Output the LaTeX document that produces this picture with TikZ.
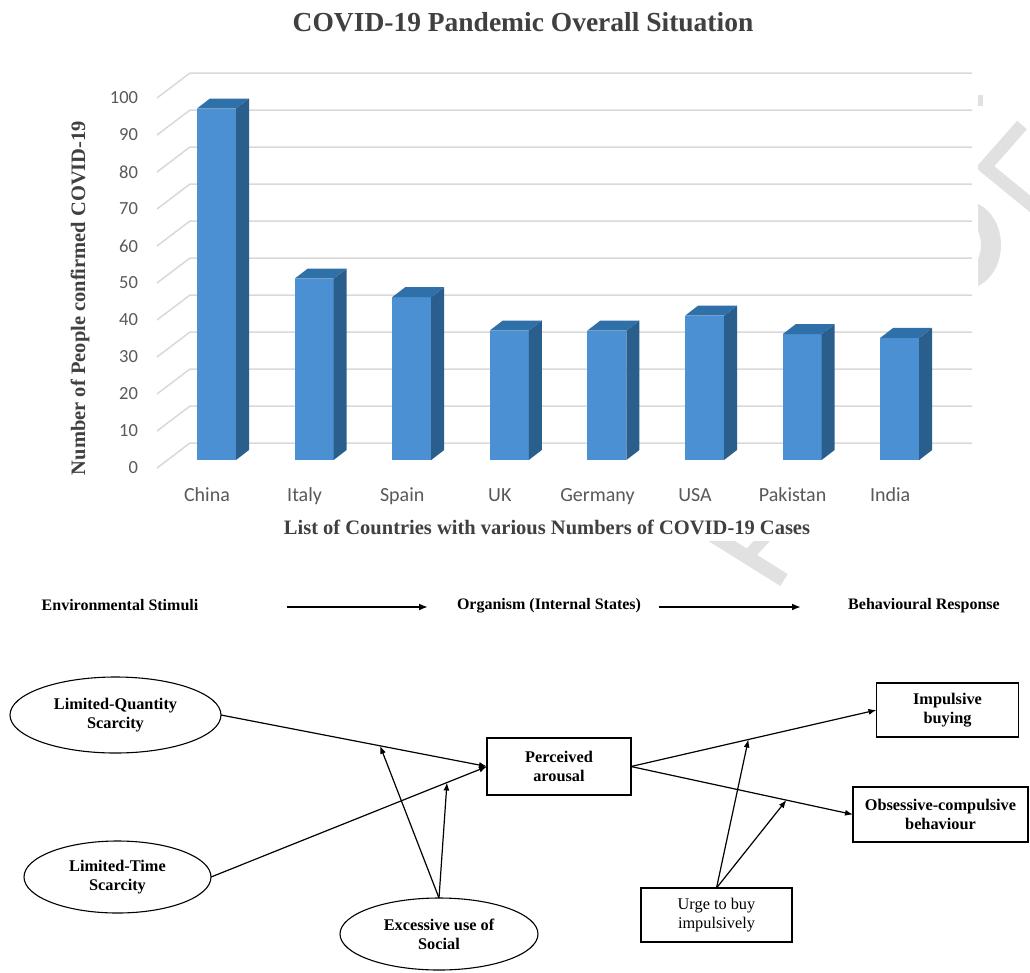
\documentclass[tikz,border=0pt]{standalone}
\usepackage{fontspec}
\setmainfont{Liberation Serif}
\newfontfamily\chartfont{Carlito}
\usetikzlibrary{arrows.meta,calc,shapes.geometric}
\definecolor{barfront}{HTML}{4A90D2}
\definecolor{barside}{HTML}{2A5E8C}
\definecolor{bartop}{HTML}{3070A8}
\definecolor{gridgray}{HTML}{D9D9D9}
\definecolor{ticktext}{HTML}{595959}
\definecolor{titletext}{HTML}{404040}
\definecolor{wmark}{HTML}{E1E1E1}

\begin{document}
\begin{tikzpicture}[x=1pt,y=-1pt,
  every node/.style={inner sep=0pt, outer sep=0pt},
  ticklabel/.style={anchor=east, font=\chartfont\fontsize{18.5}{18.5}\selectfont, text=ticktext},
  country/.style={anchor=base, font=\chartfont\fontsize{20}{20}\selectfont, text=ticktext},
  charttitle/.style={font=\bfseries\fontsize{27.5}{27.5}\selectfont, text=titletext},
  axistitle/.style={font=\bfseries\fontsize{20.5}{20.5}\selectfont, text=titletext},
  gridline/.style={draw=gridgray, line width=1.5pt},
  head/.style={font=\bfseries\fontsize{16}{16}\selectfont},
  headarrow/.style={line width=2pt, -{Latex[length=9pt,width=7pt]}},
  oval/.style={ellipse, draw, line width=1.1pt, align=center,
    font=\bfseries\fontsize{16.3}{19}\selectfont},
  box/.style={rectangle, draw, line width=1.3pt, align=center,
    font=\bfseries\fontsize{16.3}{19}\selectfont},
  link/.style={line width=1.2pt, -{Latex[length=8pt,width=6pt]}}]

\useasboundingbox (0,0) rectangle (1030,972);

% faint watermark letters behind the chart panel
\draw[wmark, line width=13pt] (1022,125) -- (985,167) -- (1040,212);
\fill[wmark, even odd rule] (965,245) ellipse [x radius=36, y radius=44]
                            (965,245) ellipse [x radius=16, y radius=24];
\draw[wmark, line width=14pt] (712,535) -- (784,580);
\draw[wmark, line width=12pt] (770,532) -- (748,556);
\draw[wmark, line width=5pt] (980,95) -- (980,106);

% chart panel
\fill[white] (0,0) rectangle (978,541);

\node[charttitle] (title) at (523,22.5) {COVID-19 Pandemic Overall Situation};

% back wall and side wall grid
\foreach \v in {0,10,...,100} {
  \draw[gridline] (157,468-3.7*\v) -- (190,443-3.7*\v) -- (972,443-3.7*\v);
  \node[ticklabel] (tick\v) at (138,468-3.7*\v) {\v};
}

% 3D columns
\foreach \i/\val/\name in {0/95/China,1/49/Italy,2/44/Spain,3/35/UK,
                           4/35/Germany,5/39/USA,6/34/Pakistan,7/33/India} {
  \pgfmathsetmacro\xl{197+97.6*\i}
  \pgfmathsetmacro\yt{460-3.7*\val}
  \fill[barfront] (\xl,460) rectangle (\xl+39,\yt);
  \fill[barside] (\xl+39,460) -- (\xl+52,450) -- (\xl+52,\yt-10) -- (\xl+39,\yt) -- cycle;
  \fill[bartop] (\xl,\yt) -- (\xl+13,\yt-10) -- (\xl+52,\yt-10) -- (\xl+39,\yt) -- cycle;
  \node[country] (c\i) at (\xl+10,501.5) {\name};
}

\node[axistitle, rotate=90] (ytitle) at (80,298) {Number of People confirmed COVID-19};
\node[axistitle] (xtitle) at (547,527) {List of Countries with various Numbers of COVID-19 Cases};

% S-O-R header
\node[head] (es) at (120,605) {Environmental Stimuli};
\node[head] (org) at (549,606) {Organism (Internal States)};
\node[head] (br) at (924,606) {Behavioural Response};
\coordinate (h1s) at (287,607);
\coordinate (h1e) at (428,607);
\coordinate (h2s) at (659,607);
\coordinate (h2e) at (801,607);
\draw[headarrow] (h1s) -- (h1e);
\draw[headarrow] (h2s) -- (h2e);

% model
\node[oval, minimum width=211, minimum height=76] (lq) at (115.5,715) {Limited-Quantity\\Scarcity};
\node[oval, minimum width=187, minimum height=72] (lt) at (117.5,877) {Limited-Time\\Scarcity};
\node[oval, minimum width=198, minimum height=72] (ex) at (439,934) {Excessive use of\\Social};
\node[box, minimum width=144, minimum height=57] (pa) at (559,766.5) {Perceived\\arousal};
\node[box, minimum width=142, minimum height=54] (ib) at (947.5,710) {Impulsive\\buying};
\node[box, minimum width=175, minimum height=55] (ocb) at (940.5,814.5) {Obsessive-compulsive\\behaviour};
\node[box, minimum width=151, minimum height=54, font=\fontsize{16.3}{19}\selectfont] (ur) at (716.5,915) {Urge to buy\\impulsively};

\draw[link] (lq.east) -- (pa.west);
\draw[link] (lt.east) -- (pa.west);
\draw[link] (pa.east) -- (ib.west);
\draw[link] (pa.east) -- (ocb.west);

\coordinate (m1) at ($(lq.east)!0.598!(pa.west)$);
\coordinate (m2) at ($(lt.east)!0.855!(pa.west)$);
\coordinate (m3) at ($(pa.east)!0.478!(ib.west)$);
\coordinate (m4) at ($(pa.east)!0.70!(ocb.west)$);
\draw[link] (ex.north) -- (m1);
\draw[link] (ex.north) -- (m2);
\draw[link] (ur.north) -- (m3);
\draw[link] (ur.north) -- (m4);

\end{tikzpicture}
\end{document}
